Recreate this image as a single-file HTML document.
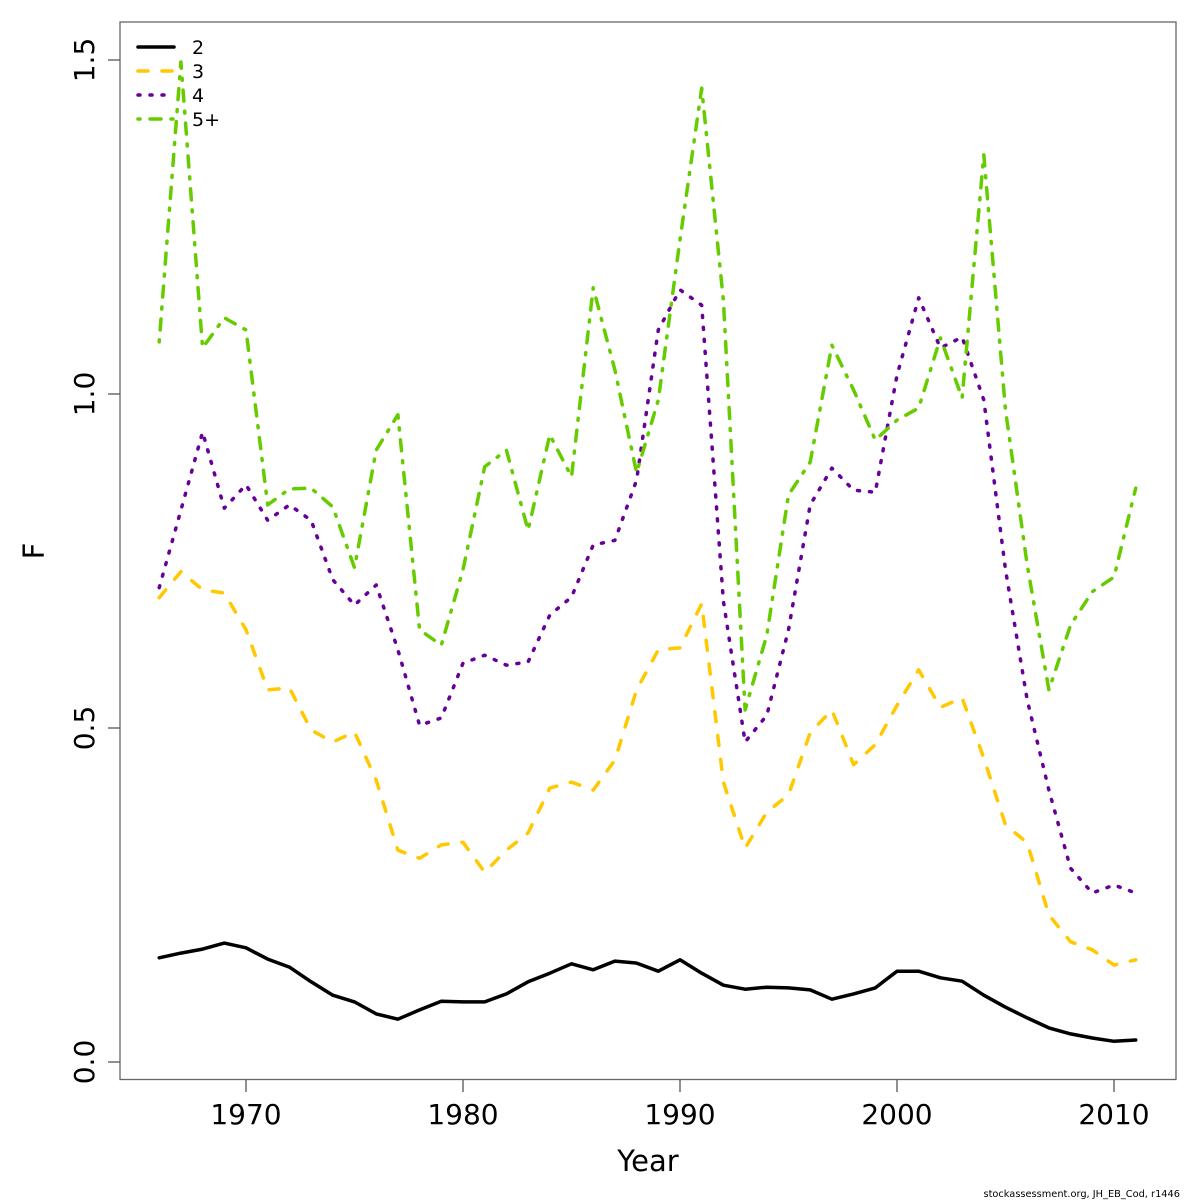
<!DOCTYPE html>
<html><head><meta charset="utf-8"><style>
html,body{margin:0;padding:0;background:#fff;}
svg{display:block;font-family:"DejaVu Sans","Liberation Sans",sans-serif;}
</style></head><body>
<svg id="chart" width="1200" height="1200" viewBox="0 0 1200 1200" xmlns="http://www.w3.org/2000/svg">
<rect x="0" y="0" width="1200" height="1200" fill="#fff"/>
<rect x="120" y="22" width="1056" height="1057.5" fill="none" stroke="#666" stroke-width="1.3"/>
<g id="axes"></g>
<g id="series"></g>
<g id="legend"></g>
<text x="648" y="1171" font-size="29" text-anchor="middle">Year</text>
<text x="44" y="551" font-size="29" text-anchor="middle" transform="rotate(-90 44 551)">F</text>
<text x="1180" y="1197" font-size="9.8" text-anchor="end">stockassessment.org, JH_EB_Cod, r1446</text>
</svg>
<script>
const years = [1966,1967,1968,1969,1970,1971,1972,1973,1974,1975,1976,1977,1978,1979,1980,1981,1982,1983,1984,1985,1986,1987,1988,1989,1990,1991,1992,1993,1994,1995,1996,1997,1998,1999,2000,2001,2002,2003,2004,2005,2006,2007,2008,2009,2010,2011];
const age2 = [0.156,0.163,0.169,0.178,0.171,0.154,0.142,0.120,0.100,0.090,0.072,0.064,0.078,0.091,0.090,0.090,0.102,0.120,0.133,0.147,0.138,0.151,0.148,0.136,0.153,0.133,0.115,0.109,0.112,0.111,0.108,0.094,0.102,0.111,0.136,0.136,0.126,0.121,0.100,0.082,0.066,0.051,0.042,0.036,0.031,0.033];
const age3 = [0.695,0.734,0.707,0.702,0.647,0.557,0.560,0.497,0.479,0.494,0.422,0.317,0.305,0.325,0.329,0.284,0.317,0.343,0.410,0.419,0.407,0.452,0.557,0.617,0.620,0.686,0.419,0.320,0.374,0.400,0.493,0.527,0.445,0.475,0.534,0.587,0.531,0.545,0.455,0.355,0.328,0.220,0.180,0.168,0.145,0.153];
const age4 = [0.710,0.826,0.943,0.829,0.864,0.811,0.834,0.811,0.722,0.684,0.714,0.617,0.504,0.515,0.597,0.609,0.594,0.599,0.669,0.696,0.774,0.781,0.871,1.096,1.156,1.133,0.690,0.479,0.519,0.647,0.834,0.889,0.856,0.853,1.028,1.144,1.069,1.085,0.991,0.737,0.542,0.407,0.290,0.253,0.265,0.253];
const age5 = [1.078,1.497,1.069,1.114,1.096,0.834,0.858,0.859,0.831,0.740,0.916,0.969,0.647,0.624,0.737,0.891,0.916,0.796,0.939,0.876,1.159,1.036,0.882,0.991,1.231,1.458,1.140,0.527,0.639,0.849,0.898,1.073,1.006,0.931,0.961,0.979,1.084,0.994,1.358,0.976,0.744,0.557,0.654,0.704,0.726,0.859];
const xTicks = [1970,1980,1990,2000,2010];
const yTicks = [0.0,0.5,1.0,1.5];
const yTickLabels = ["0.0","0.5","1.0","1.5"];
const seriesNames = ["2","3","4","5+"];

const NS="http://www.w3.org/2000/svg";
function xS(v){return 246 + (v-1970)*21.7;}
function yS(v){return 1062 - v*668;}
function mk(tag,attrs,parent){const e=document.createElementNS(NS,tag);for(const k in attrs)e.setAttribute(k,attrs[k]);parent.appendChild(e);return e;}
const axes=document.getElementById('axes');
xTicks.forEach((t,i)=>{
  const l=mk('line',{x1:xS(t),x2:xS(t),y1:1080,y2:1092,stroke:'#555','stroke-width':1.3},axes);
  
  
  const tx=mk('text',{x:xS(t),y:1124,'font-size':28,'text-anchor':'middle'},axes);
  tx.textContent=t;
  
  
});
yTicks.forEach((t,i)=>{
  const l=mk('line',{x1:108,x2:120,y1:yS(t),y2:yS(t),stroke:'#555','stroke-width':1.3},axes);
  
  
  const tx=mk('text',{x:94,y:yS(t),'font-size':28,'text-anchor':'middle',transform:'rotate(-90 94 '+yS(t)+')'},axes);
  tx.textContent=yTickLabels[i];
  
  
});
const styles=[
  {c:'#000000',d:''},
  {c:'#FFC800',d:'10 14'},
  {c:'#660099',d:'2 10'},
  {c:'#66CC00',d:'2 10 11 10'}
];
const data=[age2,age3,age4,age5];
const sg=document.getElementById('series');
data.forEach((arr,si)=>{
  const pts=arr.map((v,i)=>xS(years[i]).toFixed(1)+','+yS(v).toFixed(1)).join(' ');
  const p=mk('polyline',{points:pts,fill:'none',stroke:styles[si].c,'stroke-width':3.5,'stroke-linecap':'round','stroke-linejoin':'round'},sg);
  if(styles[si].d)p.setAttribute('stroke-dasharray',styles[si].d);
  
  
});
const lg=document.getElementById('legend');
seriesNames.forEach((n,i)=>{
  const y=47+i*24;
  const l=mk('line',{x1:138,x2:174,y1:y,y2:y,stroke:styles[i].c,'stroke-width':3.5,'stroke-linecap':'round'},lg);
  if(styles[i].d)l.setAttribute('stroke-dasharray',styles[i].d);
  
  
  const t=mk('text',{x:192,y:y+7,'font-size':19},lg);
  t.textContent=n;
  
  
});
</script>
</body></html>
